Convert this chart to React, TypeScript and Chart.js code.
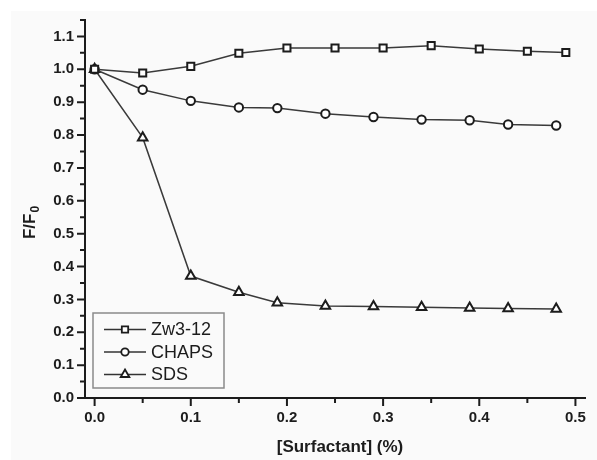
import React, { useEffect, useRef } from "react";
import { Chart, registerables } from "chart.js";

Chart.register(...registerables);

const zwX = [0, 0.05, 0.1, 0.15, 0.2, 0.25, 0.3, 0.35, 0.4, 0.45, 0.49];
const zwY = [1.0, 0.989, 1.009, 1.049, 1.065, 1.065, 1.065, 1.072, 1.062, 1.055, 1.051];
const chapsX = [0, 0.05, 0.1, 0.15, 0.19, 0.24, 0.29, 0.34, 0.39, 0.43, 0.48];
const chapsY = [1.0, 0.938, 0.904, 0.884, 0.882, 0.865, 0.855, 0.847, 0.845, 0.832, 0.829];
const sdsX = [0, 0.05, 0.1, 0.15, 0.19, 0.24, 0.29, 0.34, 0.39, 0.43, 0.48];
const sdsY = [1.0, 0.792, 0.371, 0.322, 0.29, 0.28, 0.278, 0.276, 0.274, 0.272, 0.271];

const seriesLabels = ["Zw3-12", "CHAPS", "SDS"];
const xMajorTicks = [0, 0.1, 0.2, 0.3, 0.4, 0.5];
const xMinorTicks = [0.05, 0.15, 0.25, 0.35, 0.45];
const yMajorTicks = [0, 0.1, 0.2, 0.3, 0.4, 0.5, 0.6, 0.7, 0.8, 0.9, 1.0, 1.1];
const yMinorTicks = [0.05, 0.15, 0.25, 0.35, 0.45, 0.55, 0.65, 0.75, 0.85, 0.95, 1.05, 1.15];

const FONT = "'Liberation Sans', Arial, sans-serif";
const INK = "#1c1c1c";

const pts = (xs: number[], ys: number[]) => xs.map((x, i) => ({ x, y: ys[i] }));

function marker(ctx: CanvasRenderingContext2D, style: string, r: number, x: number, y: number) {
  ctx.beginPath();
  if (style === "rect") {
    const s = Math.SQRT1_2 * r;
    ctx.rect(x - s, y - s, 2 * s, 2 * s);
  } else if (style === "circle") {
    ctx.arc(x, y, r, 0, Math.PI * 2);
  } else {
    for (let k = 0; k < 3; k++) {
      const a = -Math.PI / 2 + (k * 2 * Math.PI) / 3;
      const px = x + Math.cos(a) * r;
      const py = y + Math.sin(a) * r;
      if (k === 0) ctx.moveTo(px, py);
      else ctx.lineTo(px, py);
    }
  }
  ctx.closePath();
  ctx.fill();
  ctx.stroke();
}

export default function App() {
  const ref = useRef<HTMLCanvasElement | null>(null);

  useEffect(() => {
    if (!ref.current) return;

    const decor = {
      id: "decor",
      beforeDraw(chart: any) {
        const { ctx, width, height } = chart;
        ctx.save();
        ctx.fillStyle = "#ffffff";
        ctx.fillRect(0, 0, width, height);
        ctx.fillStyle = "#fafafa";
        ctx.fillRect(11, 11, width - 11, height - 11);
        ctx.restore();
      },
      afterDraw(chart: any) {
        const { ctx, chartArea } = chart;
        const xs = chart.scales.x;
        const ys = chart.scales.y;
        ctx.save();
        ctx.strokeStyle = INK;
        ctx.lineWidth = 2;
        ctx.beginPath();
        xMajorTicks.forEach((v) => {
          const px = xs.getPixelForValue(v);
          ctx.moveTo(px, chartArea.bottom);
          ctx.lineTo(px, chartArea.bottom + 8);
        });
        xMinorTicks.forEach((v) => {
          const px = xs.getPixelForValue(v);
          ctx.moveTo(px, chartArea.bottom);
          ctx.lineTo(px, chartArea.bottom + 5);
        });
        yMajorTicks.forEach((v) => {
          const py = ys.getPixelForValue(v);
          ctx.moveTo(chartArea.left, py);
          ctx.lineTo(chartArea.left - 8, py);
        });
        yMinorTicks.forEach((v) => {
          const py = ys.getPixelForValue(v);
          ctx.moveTo(chartArea.left, py);
          ctx.lineTo(chartArea.left - 5, py);
        });
        ctx.stroke();

        // axis titles
        ctx.fillStyle = INK;
        ctx.font = `bold 17px ${FONT}`;
        ctx.textAlign = "center";
        ctx.textBaseline = "middle";
        ctx.fillText("[Surfactant] (%)", 340, 447);

        ctx.save();
        ctx.translate(30, 223);
        ctx.rotate(-Math.PI / 2);
        ctx.font = `bold 17px ${FONT}`;
        ctx.textAlign = "left";
        ctx.textBaseline = "middle";
        const main = "F/F";
        const w = ctx.measureText(main).width;
        ctx.font = `bold 12px ${FONT}`;
        const sw = ctx.measureText("0").width;
        const start = -(w + sw) / 2;
        ctx.font = `bold 17px ${FONT}`;
        ctx.fillText(main, start, 0);
        ctx.font = `bold 12px ${FONT}`;
        ctx.fillText("0", start + w + 1, 6);
        ctx.restore();

        // legend
        const bx = 93, by = 313, bw = 131, bh = 75;
        ctx.strokeStyle = "#8a8a8a";
        ctx.lineWidth = 1.5;
        ctx.strokeRect(bx, by, bw, bh);
        const rows = [329.5, 352, 374.5];
        chart.data.datasets.forEach((ds: any, i: number) => {
          const y = rows[i];
          ctx.strokeStyle = "#333";
          ctx.lineWidth = 1.5;
          ctx.beginPath();
          ctx.moveTo(104, y);
          ctx.lineTo(146, y);
          ctx.stroke();
          ctx.fillStyle = "#ffffff";
          ctx.strokeStyle = INK;
          ctx.lineWidth = 1.8;
          marker(ctx, ds.pointStyle, ds.pointRadius - 0.5, 125, y);
          ctx.fillStyle = INK;
          ctx.font = `18px ${FONT}`;
          ctx.textAlign = "left";
          ctx.textBaseline = "middle";
          ctx.fillText(ds.label, 151, y + 1);
        });
        ctx.restore();
      },
    };

    const mk = (label: string, data: any[], style: string, r: number) => ({
      label,
      data,
      pointStyle: style,
      pointRadius: r,
      pointBorderWidth: 2,
      pointBackgroundColor: "#ffffff",
      pointBorderColor: INK,
      borderColor: "#3a3a3a",
      borderWidth: 1.5,
      showLine: true,
      tension: 0,
      fill: false,
    });

    const chart = new Chart(ref.current, {
      type: "scatter",
      data: {
        datasets: [
          mk(seriesLabels[0], pts(zwX, zwY), "rect", 5),
          mk(seriesLabels[1], pts(chapsX, chapsY), "circle", 4.2),
          mk(seriesLabels[2], pts(sdsX, sdsY), "triangle", 5.5),
        ],
      },
      options: {
        responsive: false,
        animation: false,
        layout: { padding: { top: 17, right: 2, left: 0, bottom: 0 } },
        plugins: { legend: { display: false }, tooltip: { enabled: false } },
        scales: {
          x: {
            type: "linear",
            min: -0.01,
            max: 0.51,
            afterBuildTicks: (s: any) => {
              s.ticks = xMajorTicks.map((v) => ({ value: v }));
            },
            afterFit: (s: any) => {
              s.height = 62;
            },
            grid: { drawOnChartArea: false, drawTicks: false },
            border: { display: true, width: 2, color: INK },
            ticks: {
              padding: 11,
              color: INK,
              font: { family: FONT, size: 15, weight: "bold" },
              callback: (v: any) => Number(v).toFixed(1),
              maxRotation: 0,
            },
          },
          y: {
            type: "linear",
            min: 0,
            max: 1.15,
            afterBuildTicks: (s: any) => {
              s.ticks = yMajorTicks.map((v) => ({ value: v }));
            },
            afterFit: (s: any) => {
              s.width = 85;
            },
            grid: { drawOnChartArea: false, drawTicks: false },
            border: { display: true, width: 2, color: INK },
            ticks: {
              padding: 11,
              color: INK,
              font: { family: FONT, size: 15, weight: "bold" },
              callback: (v: any) => Number(v).toFixed(1),
            },
          },
        },
      },
      plugins: [decor],
    } as any);

    return () => chart.destroy();
  }, []);

  return (
    <div style={{ position: "absolute", left: 0, top: 0, width: 597, height: 460 }}>
      <canvas ref={ref} width={597} height={460} style={{ width: 597, height: 460, display: "block" }} />
    </div>
  );
}
